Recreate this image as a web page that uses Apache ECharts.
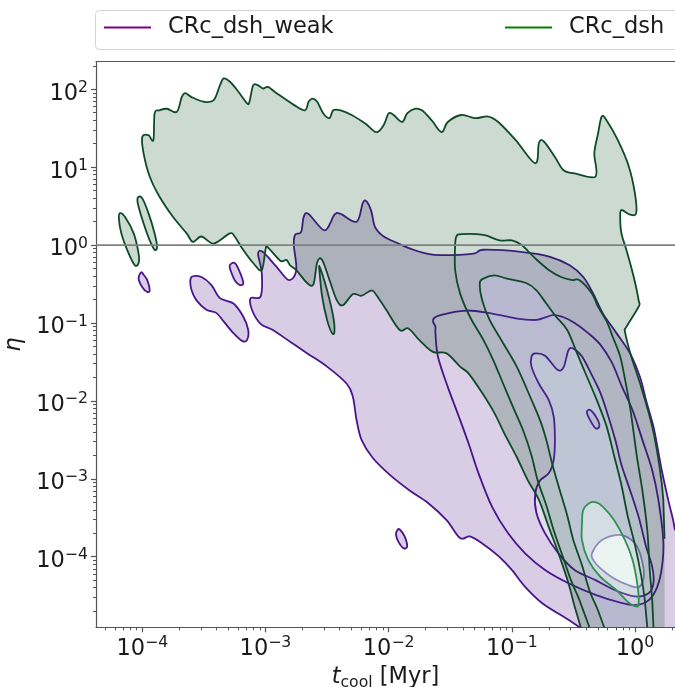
<!DOCTYPE html>
<html>
<head>
<meta charset="utf-8">
<script src="https://cdn.jsdelivr.net/npm/echarts@6/dist/echarts.min.js"></script>
<style>
  html, body { margin: 0; padding: 0; background: #ffffff; }
  #chart { width: 675px; height: 687px; }
</style>
</head>
<body>
<div id="chart"></div>
<script>
// ---------------------------------------------------------------------------
// Axis extents, in log10 units: t_cool [Myr] and eta
const T_LOG_RANGE = [-4.376, 0.325];
const ETA_LOG_RANGE = [-4.906, 2.354];
const T_TICKS = [1e-4, 1e-3, 1e-2, 1e-1, 1];
const ETA_TICKS = [1e-4, 1e-3, 1e-2, 1e-1, 1, 1e1, 1e2];
const ETA_REFERENCE = 1;

// KDE density contours. Every ring is a closed list of [log10 t_cool, log10 eta].
// Rings that reach the lower / right plot edge, or the edge of the KDE grid, are open there.

// --- CRc_dsh_weak ---
const weakL1Main = [[-3.12,-0.68],[-3.04,-0.66],[-3.03,-0.36],[-3.06,-0.11],[-3.02,-0.09],[-2.91,-0.28],[-2.81,-0.45],[-2.75,-0.32],[-2.77,0.00],[-2.76,0.13],[-2.71,0.17],[-2.69,0.36],[-2.65,0.40],[-2.52,0.19],[-2.44,0.39],[-2.39,0.40],[-2.26,0.30],[-2.21,0.54],[-2.18,0.56],[-2.14,0.43],[-2.11,0.23],[-2.04,0.11],[-1.92,0.02],[-1.80,-0.06],[-1.69,-0.11],[-1.58,-0.13],[-1.31,-0.11],[-1.23,-0.06],[-0.91,-0.09],[-0.69,-0.15],[-0.53,-0.26],[-0.42,-0.41],[-0.34,-0.62],[-0.26,-0.88],[-0.15,-1.13],[-0.04,-1.39],[0.04,-1.69],[0.09,-1.99],[0.15,-2.33],[0.18,-2.57],[0.22,-2.91],[0.27,-3.27],[0.31,-3.53],[0.325,-3.66],[0.325,-4.906],[-0.45,-4.906],[-0.54,-4.81],[-0.75,-4.60],[-0.89,-4.39],[-1.00,-4.17],[-1.11,-3.99],[-1.24,-3.83],[-1.34,-3.74],[-1.42,-3.76],[-1.53,-3.53],[-1.68,-3.31],[-1.83,-3.15],[-1.99,-2.95],[-2.13,-2.73],[-2.22,-2.50],[-2.26,-2.25],[-2.29,-1.95],[-2.34,-1.78],[-2.50,-1.56],[-2.66,-1.39],[-2.80,-1.24],[-2.94,-1.09],[-3.04,-1.01],[-3.11,-0.83]];
const weakL1Lobe = [[-3.61,-0.45],[-3.59,-0.40],[-3.52,-0.41],[-3.44,-0.51],[-3.37,-0.68],[-3.26,-0.75],[-3.18,-0.92],[-3.14,-1.09],[-3.15,-1.22],[-3.19,-1.23],[-3.26,-1.13],[-3.34,-0.98],[-3.40,-0.87],[-3.48,-0.83],[-3.56,-0.71],[-3.60,-0.58]];
const weakL1Islet = [[-3.29,-0.26],[-3.25,-0.23],[-3.21,-0.34],[-3.18,-0.49],[-3.21,-0.51],[-3.25,-0.45],[-3.28,-0.34]];
const weakL1FarLeft = [[-4.01,-0.35],[-3.99,-0.38],[-3.96,-0.45],[-3.94,-0.58],[-3.96,-0.60],[-4.00,-0.54],[-4.03,-0.43]];
const weakL1Speck = [[-1.93,-3.66],[-1.91,-3.65],[-1.87,-3.74],[-1.85,-3.87],[-1.88,-3.89],[-1.92,-3.81],[-1.94,-3.72]];
const weakL2 = [[-1.62,-1.05],[-1.64,-0.96],[-1.58,-0.90],[-1.37,-0.84],[-1.16,-0.88],[-0.97,-0.94],[-0.80,-0.96],[-0.67,-0.90],[-0.59,-0.92],[-0.49,-1.00],[-0.38,-1.13],[-0.28,-1.28],[-0.19,-1.50],[-0.11,-1.80],[-0.02,-2.12],[0.06,-2.50],[0.14,-2.89],[0.19,-3.27],[0.23,-3.79],[0.22,-4.12],[0.18,-4.39],[0.11,-4.56],[0.00,-4.62],[-0.14,-4.58],[-0.32,-4.49],[-0.54,-4.34],[-0.73,-4.17],[-0.89,-3.96],[-1.03,-3.70],[-1.16,-3.36],[-1.27,-2.93],[-1.35,-2.55],[-1.43,-2.20],[-1.52,-1.82],[-1.60,-1.43],[-1.62,-1.13]];
const weakL3Main = [[-0.84,-1.43],[-0.81,-1.39],[-0.73,-1.42],[-0.63,-1.60],[-0.58,-1.57],[-0.54,-1.35],[-0.50,-1.33],[-0.43,-1.43],[-0.35,-1.67],[-0.28,-1.90],[-0.22,-2.18],[-0.16,-2.50],[-0.11,-2.82],[-0.05,-3.10],[0.03,-3.49],[0.09,-3.87],[0.14,-4.13],[0.15,-4.34],[0.11,-4.47],[0.00,-4.51],[-0.16,-4.43],[-0.32,-4.30],[-0.49,-4.17],[-0.62,-3.96],[-0.73,-3.70],[-0.80,-3.44],[-0.81,-3.19],[-0.77,-3.02],[-0.70,-2.93],[-0.66,-2.76],[-0.65,-2.50],[-0.66,-2.20],[-0.70,-1.99],[-0.78,-1.78],[-0.84,-1.56]];
const weakL3Hole = [[-0.39,-2.14],[-0.36,-2.12],[-0.30,-2.25],[-0.29,-2.33],[-0.32,-2.35],[-0.37,-2.23]];
const weakL4 = [[-0.35,-3.96],[-0.28,-3.80],[-0.18,-3.73],[-0.09,-3.73],[0.01,-3.85],[0.06,-4.07],[0.07,-4.27],[0.03,-4.39],[-0.06,-4.36],[-0.17,-4.28],[-0.28,-4.15],[-0.34,-4.04]];

// --- CRc_dsh ---
const dshL1Main = [[-4.00,1.39],[-3.95,1.41],[-3.91,1.35],[-3.90,1.69],[-3.86,1.73],[-3.80,1.75],[-3.72,1.71],[-3.68,1.90],[-3.65,1.95],[-3.60,1.90],[-3.50,1.84],[-3.42,1.86],[-3.37,2.05],[-3.34,2.14],[-3.29,2.10],[-3.23,1.99],[-3.15,1.82],[-3.13,1.84],[-3.10,2.05],[-3.06,2.05],[-3.02,2.01],[-2.98,2.03],[-2.91,1.95],[-2.77,1.80],[-2.68,1.73],[-2.65,1.84],[-2.62,1.88],[-2.58,1.84],[-2.53,1.69],[-2.48,1.63],[-2.45,1.73],[-2.39,1.73],[-2.30,1.67],[-2.19,1.56],[-2.10,1.45],[-2.04,1.54],[-2.00,1.69],[-1.96,1.67],[-1.89,1.58],[-1.85,1.69],[-1.79,1.75],[-1.73,1.73],[-1.65,1.60],[-1.57,1.45],[-1.52,1.58],[-1.41,1.67],[-1.30,1.63],[-1.19,1.65],[-1.11,1.58],[-0.97,1.35],[-0.81,1.05],[-0.78,1.31],[-0.74,1.33],[-0.65,1.13],[-0.58,0.96],[-0.49,0.92],[-0.32,0.88],[-0.33,1.18],[-0.30,1.43],[-0.27,1.65],[-0.23,1.60],[-0.14,1.35],[-0.05,1.01],[0.00,0.66],[0.01,0.41],[-0.04,0.39],[-0.11,0.45],[-0.12,0.36],[-0.11,0.15],[-0.07,-0.06],[-0.01,-0.41],[0.03,-0.71],[0.03,-0.79],[-0.07,-1.05],[-0.08,-1.12],[-0.03,-1.43],[0.05,-1.82],[0.14,-2.33],[0.20,-2.85],[0.23,-3.27],[0.24,-3.77],[0.24,-4.906],[-0.44,-4.906],[-0.49,-4.64],[-0.54,-4.34],[-0.62,-3.96],[-0.70,-3.62],[-0.78,-3.27],[-0.87,-3.02],[-0.96,-2.72],[-1.06,-2.42],[-1.14,-2.16],[-1.24,-1.90],[-1.35,-1.65],[-1.42,-1.56],[-1.53,-1.39],[-1.64,-1.37],[-1.75,-1.22],[-1.84,-1.07],[-1.91,-1.09],[-2.02,-0.83],[-2.10,-0.64],[-2.14,-0.58],[-2.22,-0.65],[-2.29,-0.63],[-2.37,-0.77],[-2.42,-0.71],[-2.48,-0.45],[-2.54,-0.19],[-2.58,-0.22],[-2.61,-0.50],[-2.66,-0.49],[-2.75,-0.32],[-2.80,-0.26],[-2.83,-0.19],[-2.88,-0.20],[-2.98,-0.03],[-3.00,-0.06],[-3.03,-0.32],[-3.10,-0.23],[-3.19,-0.04],[-3.25,0.11],[-3.29,0.15],[-3.42,0.02],[-3.52,0.11],[-3.59,0.04],[-3.64,0.15],[-3.75,0.36],[-3.86,0.62],[-3.94,0.88],[-3.99,1.18]];
const dshL1IsleA = [[-4.18,0.41],[-4.14,0.36],[-4.07,0.15],[-4.03,-0.11],[-4.03,-0.23],[-4.06,-0.26],[-4.11,-0.11],[-4.17,0.15],[-4.19,0.34]];
const dshL1IsleB = [[-4.03,0.62],[-4.00,0.60],[-3.95,0.41],[-3.90,0.15],[-3.88,-0.02],[-3.90,-0.06],[-3.94,0.06],[-3.99,0.28],[-4.03,0.49],[-4.04,0.58]];
const dshL1IsleC = [[-2.56,-0.28],[-2.50,-0.58],[-2.45,-0.92],[-2.44,-1.11],[-2.46,-1.13],[-2.50,-0.96],[-2.54,-0.66],[-2.56,-0.36]];
const dshL2 = [[-1.46,0.00],[-1.45,0.11],[-1.41,0.14],[-1.23,0.13],[-1.10,0.06],[-1.00,0.06],[-0.92,0.00],[-0.81,-0.17],[-0.70,-0.32],[-0.60,-0.41],[-0.51,-0.45],[-0.45,-0.45],[-0.35,-0.62],[-0.30,-0.79],[-0.23,-0.98],[-0.18,-1.18],[-0.12,-1.43],[-0.08,-1.73],[-0.04,-2.08],[-0.01,-2.42],[0.02,-2.76],[0.06,-3.15],[0.10,-3.66],[0.12,-4.17],[0.14,-4.56],[0.15,-4.906],[-0.37,-4.906],[-0.45,-4.56],[-0.52,-4.30],[-0.59,-3.98],[-0.66,-3.66],[-0.72,-3.34],[-0.79,-3.02],[-0.84,-2.70],[-0.91,-2.37],[-0.99,-2.08],[-1.07,-1.78],[-1.15,-1.48],[-1.23,-1.22],[-1.34,-0.92],[-1.42,-0.62],[-1.46,-0.32]];
const dshL3 = [[-1.26,-0.49],[-1.23,-0.43],[-1.14,-0.39],[-1.04,-0.43],[-0.88,-0.49],[-0.80,-0.58],[-0.72,-0.75],[-0.64,-0.92],[-0.55,-1.09],[-0.47,-1.39],[-0.39,-1.69],[-0.31,-1.99],[-0.23,-2.33],[-0.17,-2.70],[-0.11,-3.08],[-0.06,-3.47],[0.00,-3.85],[0.05,-4.24],[0.08,-4.56],[0.10,-4.906],[-0.25,-4.906],[-0.30,-4.69],[-0.37,-4.43],[-0.43,-4.11],[-0.50,-3.79],[-0.55,-3.47],[-0.61,-3.15],[-0.67,-2.82],[-0.72,-2.50],[-0.77,-2.25],[-0.85,-1.95],[-0.96,-1.56],[-1.07,-1.26],[-1.18,-0.96],[-1.24,-0.71]];
const dshL4 = [[-0.42,-3.40],[-0.37,-3.31],[-0.32,-3.30],[-0.26,-3.36],[-0.17,-3.53],[-0.08,-3.79],[-0.02,-4.04],[0.02,-4.36],[0.03,-4.60],[0.01,-4.64],[-0.05,-4.59],[-0.15,-4.43],[-0.28,-4.26],[-0.38,-4.04],[-0.43,-3.79],[-0.43,-3.57]];
// right edge of the KDE evaluation grid for CRc_dsh (log10 t_cool)
const DSH_GRID_EDGE_T = [0.24];

// Contour levels, lowest density first
const weakLevels = [
  [weakL1Main, weakL1Lobe, weakL1Islet, weakL1FarLeft, weakL1Speck],
  [weakL2],
  [weakL3Main, weakL3Hole],
  [weakL4]
];
const dshLevels = [
  [dshL1Main, dshL1IsleA, dshL1IsleB, dshL1IsleC],
  [dshL2],
  [dshL3],
  [dshL4]
];

// ---------------------------------------------------------------------------
// Styling
const FONT = 'DejaVu Sans';
const TEXT_COLOR = '#1a1a1a';
const SPINE = '#555555';
const WEAK_FILLS = ['rgba(63,0,125,0.2)', 'rgba(74,20,134,0.2)', 'rgba(100,92,165,0.2)', 'rgba(239,237,245,0.2)'];
const WEAK_LINES = ['#4a148c', '#4a148c', '#4a148c', '#8878c0'];
const DSH_FILLS = ['rgba(0,68,27,0.2)', 'rgba(10,80,50,0.2)', 'rgba(55,105,125,0.2)', 'rgba(165,222,190,0.2)'];
const DSH_LINES = ['#0f4a28', '#0f4a28', '#0f4a28', '#2e9152'];

// ---------------------------------------------------------------------------
// Geometry helpers (log space)
function signedArea(r) {
  let s = 0;
  for (let i = 0; i < r.length; i++) {
    const a = r[i], b = r[(i + 1) % r.length];
    s += a[0] * b[1] - b[0] * a[1];
  }
  return s / 2;
}
function pointInRing(p, r) {
  let c = false;
  for (let i = 0, j = r.length - 1; i < r.length; j = i++) {
    const a = r[i], b = r[j];
    if (((a[1] > p[1]) !== (b[1] > p[1])) &&
        (p[0] < (b[0] - a[0]) * (p[1] - a[1]) / (b[1] - a[1]) + a[0])) c = !c;
  }
  return c;
}
// Orient nested rings alternately so that a nonzero fill behaves like even-odd (holes stay open)
function orientRings(rings) {
  return rings.map((r, i) => {
    const depth = rings.filter((o, j) => j !== i && pointInRing(r[0], o)).length;
    const wantPositive = depth % 2 === 0;
    return (signedArea(r) > 0) === wantPositive ? r : r.slice().reverse();
  });
}

const X_EDGE = T_LOG_RANGE[1] - 1e-9;
const Y_EDGE = ETA_LOG_RANGE[0] + 1e-9;
function onEdgePoint(p, gridEdges) {
  return p[1] <= Y_EDGE || p[0] >= X_EDGE || gridEdges.indexOf(p[0]) >= 0;
}
function onBoundary(a, b, gridEdges) {
  if (a[1] <= Y_EDGE && b[1] <= Y_EDGE) return true;
  if (a[0] >= X_EDGE && b[0] >= X_EDGE) return true;
  return a[0] === b[0] && gridEdges.indexOf(a[0]) >= 0;
}

// Path command for segment i -> i+1 of a ring: straight at plot/grid edges, smooth (Catmull-Rom) elsewhere
function segmentCmd(ring, S, i, gridEdges) {
  const n = ring.length;
  const j = (i + 1) % n;
  const f = c => c[0].toFixed(2) + ' ' + c[1].toFixed(2);
  if (onEdgePoint(ring[i], gridEdges) || onEdgePoint(ring[j], gridEdges)) return 'L' + f(S[j]) + ' ';
  const p0 = S[(i - 1 + n) % n], p1 = S[i], p2 = S[j], p3 = S[(i + 2) % n];
  const c1 = [p1[0] + (p2[0] - p0[0]) / 6, p1[1] + (p2[1] - p0[1]) / 6];
  const c2 = [p2[0] - (p3[0] - p1[0]) / 6, p2[1] - (p3[1] - p1[1]) / 6];
  return 'C' + f(c1) + ' ' + f(c2) + ' ' + f(p2) + ' ';
}

function contourSeries(name, levels, fills, lines, gridEdges, legendColor) {
  const items = [];
  levels.forEach((rings, k) => {
    const inner = levels[k + 1] || [];
    items.push({ kind: 'fill', rings: orientRings(rings.concat(inner)), color: fills[k] });
  });
  levels.forEach((rings, k) => {
    items.push({ kind: 'line', rings: rings, color: lines[k] });
  });
  return {
    type: 'custom',
    name: name,
    coordinateSystem: 'cartesian2d',
    xAxisIndex: 0,
    yAxisIndex: 0,
    silent: true,
    itemStyle: { color: legendColor },
    data: items.map(() => [1e-2, 1]),
    renderItem: function (params, api) {
      const it = items[params.dataIndex];
      const pt = p => api.coord([Math.pow(10, p[0]), Math.pow(10, p[1])]);
      const f = c => c[0].toFixed(2) + ' ' + c[1].toFixed(2);
      let d = '';
      if (it.kind === 'fill') {
        it.rings.forEach(r => {
          const S = r.map(pt);
          d += 'M' + f(S[0]) + ' ';
          for (let i = 0; i < r.length; i++) d += segmentCmd(r, S, i, gridEdges);
          d += 'Z ';
        });
        return { type: 'path', shape: { pathData: d }, style: { fill: it.color, stroke: 'none' }, silent: true };
      }
      it.rings.forEach(r => {
        const S = r.map(pt);
        let penDown = false;
        for (let i = 0; i < r.length; i++) {
          const a = r[i], b = r[(i + 1) % r.length];
          if (onBoundary(a, b, gridEdges)) { penDown = false; continue; }
          if (!penDown) { d += 'M' + f(S[i]) + ' '; penDown = true; }
          d += segmentCmd(r, S, i, gridEdges);
        }
      });
      return { type: 'path', shape: { pathData: d }, style: { fill: 'none', stroke: it.color, lineWidth: 1.8, lineJoin: 'round' }, silent: true };
    }
  };
}

// Minor tick positions (2..9 x 10^n) inside an extent
function minorTicks(range) {
  const out = [];
  for (let e = Math.floor(range[0]); e <= Math.ceil(range[1]); e++) {
    for (let m = 2; m <= 9; m++) {
      const v = m * Math.pow(10, e);
      const lv = Math.log10(v);
      if (lv > range[0] && lv < range[1]) out.push(v);
    }
  }
  return out;
}

function powLabel(v) {
  const n = Math.round(Math.log10(v));
  return '{b|10}{s|' + (n < 0 ? '\u2212' + (-n) : String(n)) + '}';
}
const RICH_TICK = {
  b: { fontFamily: FONT, fontSize: 22.5, color: TEXT_COLOR, lineHeight: 28 },
  s: { fontFamily: FONT, fontSize: 15.7, color: TEXT_COLOR, verticalAlign: 'top' }
};
const RICH_NAME = {
  i: { fontFamily: FONT, fontSize: 22.5, fontStyle: 'italic', color: TEXT_COLOR, lineHeight: 28 },
  sub: { fontFamily: FONT, fontSize: 15.7, color: TEXT_COLOR, verticalAlign: 'bottom' },
  r: { fontFamily: FONT, fontSize: 22.5, color: TEXT_COLOR, lineHeight: 28 }
};

const tMin = Math.pow(10, T_LOG_RANGE[0]), tMax = Math.pow(10, T_LOG_RANGE[1]);
const eMin = Math.pow(10, ETA_LOG_RANGE[0]), eMax = Math.pow(10, ETA_LOG_RANGE[1]);
const spineStyle = { color: SPINE, width: 1.2 };

const chart = echarts.init(document.getElementById('chart'), null, { renderer: 'canvas' });
chart.setOption({
  animation: false,
  backgroundColor: '#ffffff',
  grid: { left: 96, right: 0, top: 61.7, bottom: 59.7, containLabel: false, outerBoundsMode: 'none' },
  graphic: [{
    type: 'rect', z: -1, silent: true,
    shape: { x: 95.5, y: 10.5, width: 600, height: 39, r: 4 },
    style: { fill: 'rgba(255,255,255,0.8)', stroke: '#d4d4d4', lineWidth: 1 }
  }],
  legend: [
    {
      data: [{ name: 'CRc_dsh_weak', icon: 'rect', itemStyle: { color: '#800080' } }],
      left: 104, top: 16, padding: 0, itemWidth: 47, itemHeight: 2, selectedMode: false,
      textStyle: { fontFamily: FONT, fontSize: 22.5, color: TEXT_COLOR, padding: [0, 0, 0, 12] }
    },
    {
      data: [{ name: 'CRc_dsh', icon: 'rect', itemStyle: { color: '#008000' } }],
      left: 505, top: 16, padding: 0, itemWidth: 47, itemHeight: 2, selectedMode: false,
      textStyle: { fontFamily: FONT, fontSize: 22.5, color: TEXT_COLOR, padding: [0, 0, 0, 12] }
    }
  ],
  xAxis: [
    {
      type: 'log', logBase: 10, position: 'bottom', min: tMin, max: tMax,
      axisLine: { show: true, onZero: false, lineStyle: spineStyle },
      axisTick: { show: true, length: 5, customValues: T_TICKS, lineStyle: spineStyle },
      axisLabel: { show: true, customValues: T_TICKS, margin: 8, formatter: powLabel, rich: RICH_TICK },
      splitLine: { show: false },
      name: '{i|t}{sub|cool}{r| [Myr]}', nameLocation: 'middle', nameGap: 33,
      nameTextStyle: { rich: RICH_NAME }
    },
    {
      type: 'log', logBase: 10, position: 'bottom', min: tMin, max: tMax,
      axisLine: { show: false },
      axisTick: { show: true, length: 3, customValues: minorTicks(T_LOG_RANGE), lineStyle: { color: SPINE, width: 1 } },
      axisLabel: { show: false }, splitLine: { show: false }
    },
    {
      type: 'log', logBase: 10, position: 'top', min: tMin, max: tMax,
      axisLine: { show: true, onZero: false, lineStyle: spineStyle },
      axisTick: { show: false }, axisLabel: { show: false }, splitLine: { show: false }
    }
  ],
  yAxis: [
    {
      type: 'log', logBase: 10, position: 'left', min: eMin, max: eMax,
      axisLine: { show: true, onZero: false, lineStyle: spineStyle },
      axisTick: { show: true, length: 5, customValues: ETA_TICKS, lineStyle: spineStyle },
      axisLabel: { show: true, customValues: ETA_TICKS, margin: 8, padding: [9, 0, 0, 0], formatter: powLabel, rich: RICH_TICK },
      splitLine: { show: false },
      name: '\u03b7', nameLocation: 'middle', nameGap: 64, nameRotate: 90,
      nameTextStyle: { fontFamily: FONT, fontSize: 22.5, fontStyle: 'italic', color: TEXT_COLOR }
    },
    {
      type: 'log', logBase: 10, position: 'left', min: eMin, max: eMax,
      axisLine: { show: false },
      axisTick: { show: true, length: 3, customValues: minorTicks(ETA_LOG_RANGE), lineStyle: { color: SPINE, width: 1 } },
      axisLabel: { show: false }, splitLine: { show: false }
    }
  ],
  series: [
    contourSeries('CRc_dsh_weak', weakLevels, WEAK_FILLS, WEAK_LINES, [], '#800080'),
    contourSeries('CRc_dsh', dshLevels, DSH_FILLS, DSH_LINES, DSH_GRID_EDGE_T, '#008000'),
    {
      type: 'line', name: 'eta_ref', xAxisIndex: 0, yAxisIndex: 0, silent: true,
      data: [[tMin, ETA_REFERENCE], [tMax, ETA_REFERENCE]],
      symbol: 'none', lineStyle: { color: '#808080', width: 1.6 }, z: 5
    }
  ]
});
</script>
</body>
</html>
